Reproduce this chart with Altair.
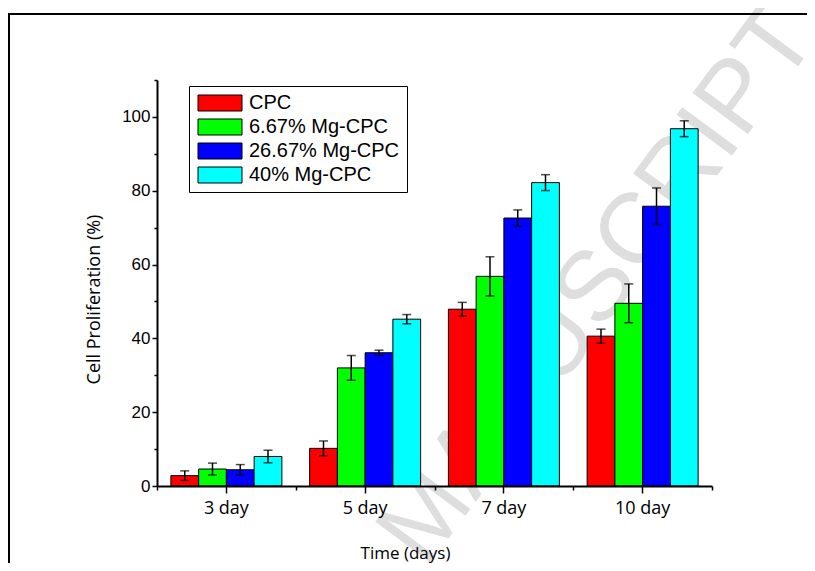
import altair as alt
import pandas as pd

# ---------------- data ----------------
days = ["3 day", "5 day", "7 day", "10 day"]
groups = ["CPC", "6.67% Mg-CPC", "26.67% Mg-CPC", "40% Mg-CPC"]
colors = ["#ff0000", "#00ff00", "#0000ff", "#00ffff"]

cpc = [2.8, 10.2, 47.9, 40.6]
cpc_err = [1.3, 2.0, 1.85, 1.9]
mg667 = [4.6, 32.0, 56.8, 49.5]
mg667_err = [1.6, 3.35, 5.3, 5.25]
mg2667 = [4.4, 36.1, 72.6, 75.8]
mg2667_err = [1.4, 0.7, 2.2, 4.95]
mg40 = [8.0, 45.2, 82.2, 96.8]
mg40_err = [1.7, 1.25, 2.15, 2.15]

y_major = [0, 20, 40, 60, 80, 100]
y_minor = [10, 30, 50, 70, 90, 110]

rows = []
for g, vals, errs in zip(groups, [cpc, mg667, mg2667, mg40],
                         [cpc_err, mg667_err, mg2667_err, mg40_err]):
    for d, v, e in zip(days, vals, errs):
        rows.append({"Day": d, "Group": g, "Value": v, "Low": v - e, "High": v + e})
df = pd.DataFrame(rows)

W, H = 555, 406

x_scale = alt.Scale(domain=days, paddingInner=0, paddingOuter=0)
xo_scale = alt.Scale(domain=groups, paddingInner=0, paddingOuter=0.5)
y_scale = alt.Scale(domain=[0, 110], nice=False, zero=True)

base = alt.Chart(df)

x_axis = alt.Axis(
    orient="bottom", title="Time (days)", labelAngle=0, zindex=2,
    labelFont="Open Sans", labelFontSize=18, labelColor="black", labelPadding=6,
    tickSize=7, tickWidth=1.5, tickColor="black",
    domainColor="black", domainWidth=2,
    titleFont="Open Sans", titleFontSize=17, titleFontWeight="normal",
    titleColor="black", titleX=248, titleY=67, titleBaseline="middle",
)
y_axis = alt.Axis(
    orient="left", values=y_major, title="Cell Proliferation (%)", grid=False, zindex=2,
    labelFont="Liberation Sans", labelFontSize=17, labelColor="black", labelPadding=2,
    tickSize=5, tickWidth=1.5, tickColor="black",
    domainColor="black", domainWidth=2,
    titleFont="Open Sans", titleFontSize=18, titleFontWeight="normal",
    titleColor="black", titleX=-63, titleY=219, titleBaseline="middle",
)

legend = alt.Legend(
    orient="none", legendX=32, legendY=6, title=None, zindex=3,
    strokeColor="black", fillColor="white", padding=7,
    labelFont="Liberation Sans", labelFontSize=20, labelColor="black",
    symbolType="M-1,-1H4.5V1H-1Z", symbolSize=256,
    symbolStrokeColor="black", symbolStrokeWidth=1, symbolOpacity=1,
    labelOffset=33, rowPadding=4,
)

bars = base.mark_bar(stroke="black", strokeWidth=1).encode(
    x=alt.X("Day:N", sort=days, scale=x_scale, axis=x_axis),
    xOffset=alt.XOffset("Group:N", sort=groups, scale=xo_scale),
    y=alt.Y("Value:Q", scale=y_scale, axis=y_axis),
    color=alt.Color("Group:N", sort=groups,
                    scale=alt.Scale(domain=groups, range=colors), legend=legend),
)

err = base.mark_rule(color="black", strokeWidth=1.5).encode(
    x=alt.X("Day:N", sort=days, scale=x_scale, axis=None),
    xOffset=alt.XOffset("Group:N", sort=groups, scale=xo_scale),
    y=alt.Y("Low:Q", scale=y_scale, axis=None),
    y2="High:Q",
)

cap_lo = base.mark_tick(color="black", size=9, thickness=1.5, orient="horizontal").encode(
    x=alt.X("Day:N", sort=days, scale=x_scale,
            axis=alt.Axis(orient="bottom", tickBand="extent", tickSize=4, tickWidth=1.5,
                          tickColor="black", labels=False, domain=False, title=None,
                          zindex=2)),
    xOffset=alt.XOffset("Group:N", sort=groups, scale=xo_scale),
    y=alt.Y("Low:Q", scale=y_scale,
            axis=alt.Axis(orient="left", values=y_minor, tickSize=3, tickWidth=1.5,
                          tickColor="black", labels=False, domain=False, grid=False,
                          title=None, zindex=2)),
)
cap_hi = base.mark_tick(color="black", size=9, thickness=1.5, orient="horizontal").encode(
    x=alt.X("Day:N", sort=days, scale=x_scale, axis=None),
    xOffset=alt.XOffset("Group:N", sort=groups, scale=xo_scale),
    y=alt.Y("High:Q", scale=y_scale, axis=None),
)

watermark = alt.Chart(pd.DataFrame({"t": ["ACCEPTED MANUSCRIPT"]})).mark_text(
    angle=306.5, align="right", baseline="middle", fontSize=100,
    font="Liberation Sans", color="#dedede",
).encode(x=alt.value(638), y=alt.value(-60), text="t:N")

frame_left = alt.Chart(pd.DataFrame({"k": [0]})).mark_rule(color="black", strokeWidth=2).encode(
    x=alt.value(-148), y=alt.value(-66), y2=alt.value(600))
frame_top = alt.Chart(pd.DataFrame({"k": [0]})).mark_rule(color="black", strokeWidth=2).encode(
    x=alt.value(-149), x2=alt.value(800), y=alt.value(-66))

chart = alt.layer(watermark, bars, err, cap_lo, cap_hi, frame_left, frame_top).resolve_axis(
    x="independent", y="independent"
).properties(
    width=W, height=H,
    autosize=alt.AutoSizeParams(type="none"),
    padding={"left": 149, "top": 72, "right": 95, "bottom": 77},
    background="white",
).configure_view(stroke=None)

chart.save("out.html", embed_options={"renderer": "svg", "actions": False})
